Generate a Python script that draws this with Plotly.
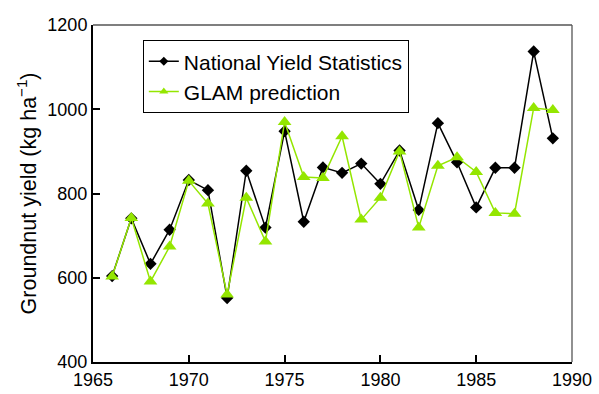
import plotly.graph_objects as go

years = list(range(1966, 1990))
national = [604, 741, 633, 714, 832, 808, 552, 854, 719, 948, 733, 862,
            849, 871, 823, 902, 761, 967, 874, 767, 861, 861, 1137, 931]
glam = [603, 742, 591, 674, 830, 776, 560, 790, 686, 970, 839, 837,
        936, 738, 790, 900, 719, 866, 886, 851, 754, 752, 1003, 998]

x_ticks = [1965, 1970, 1975, 1980, 1985, 1990]
y_ticks = [400, 600, 800, 1000, 1200]

LIME = "#94E600"
FONT = "Liberation Sans, Arial, sans-serif"

series = [
    ("National Yield Statistics", national, "black", "diamond", 9.5, 7),
    ("GLAM prediction", glam, LIME, "triangle-up", 12, 8),
]

fig = go.Figure()
for name, values, color, symbol, size, legend_size in series:
    fig.add_trace(go.Scatter(
        x=years, y=values, name=name, mode="lines+markers",
        line=dict(color=color, width=1.5),
        marker=dict(symbol=symbol, size=size, color=color),
        showlegend=False,
    ))
    # legend entry with smaller symbols
    fig.add_trace(go.Scatter(
        x=[None], y=[None], name=name, mode="lines+markers",
        line=dict(color=color, width=1.5),
        marker=dict(symbol=symbol, size=legend_size, color=color),
    ))

axis_common = dict(
    showgrid=False, zeroline=False, ticks="inside", ticklen=7,
    tickwidth=1.5, tickcolor="black", showline=True, linecolor="black",
    linewidth=2, tickfont=dict(family=FONT, size=18, color="black"),
    automargin=False,
)
fig.update_xaxes(range=[1965, 1990], tickvals=x_ticks, **axis_common)
fig.update_yaxes(range=[400, 1200], tickvals=y_ticks,
                 title=dict(text="Groundnut yield (kg ha<sup>\u22121</sup>)",
                            font=dict(family=FONT, size=21.5, color="black"),
                            standoff=5),
                 **axis_common)

# thin grey frame on the top and right sides
fig.add_shape(type="line", xref="paper", yref="paper", x0=0, x1=1, y0=1, y1=1,
              line=dict(color="#555555", width=1.3))
fig.add_shape(type="line", xref="paper", yref="paper", x0=1, x1=1, y0=0, y1=1,
              line=dict(color="#555555", width=1.3))

fig.update_layout(
    width=599, height=394,
    margin=dict(l=93, r=27, t=25, b=32),
    plot_bgcolor="white", paper_bgcolor="white",
    font=dict(family=FONT, color="black"),
    legend=dict(x=0.104, y=0.955, xanchor="left", yanchor="top",
                bordercolor="black", borderwidth=1, bgcolor="white",
                font=dict(family=FONT, size=21, color="black"),
                itemwidth=30, tracegroupgap=0),
    showlegend=True,
)

fig.write_html("out.html")
